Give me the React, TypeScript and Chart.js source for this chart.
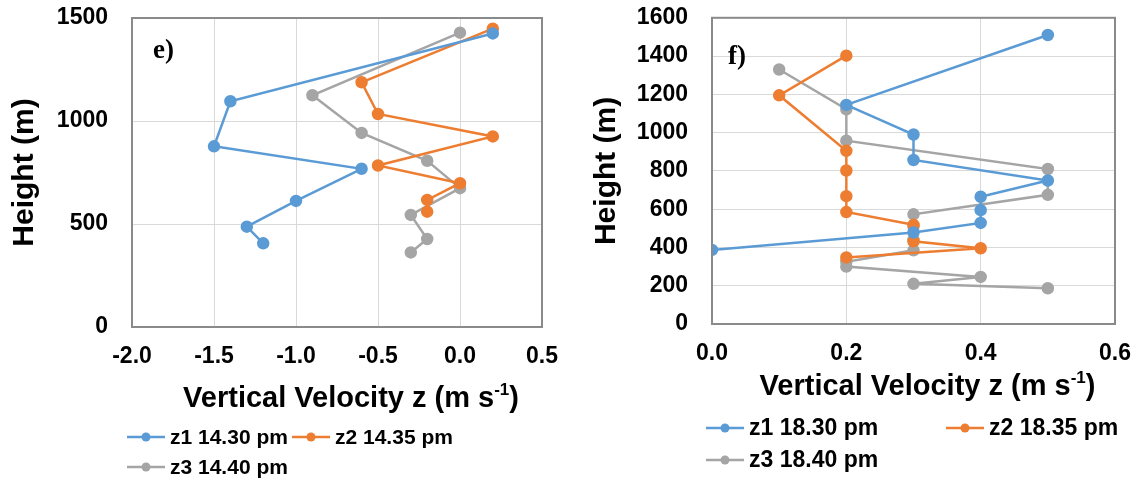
import React, { useEffect, useRef } from 'react';
import { Chart, registerables } from 'chart.js';

Chart.register(...registerables);

// ---------- Panel e) data ----------
const eZ1Vel = [0.2, -1.4, -1.5, -0.6, -1.0, -1.3, -1.2];
const eZ1Hgt = [1425, 1096, 877, 768, 612, 487, 406];
const eZ2Vel = [0.2, -0.6, -0.5, 0.2, -0.5, 0.0, -0.2, -0.2];
const eZ2Hgt = [1448, 1188, 1034, 925, 784, 698, 617, 560];
const eZ3Vel = [0.0, -0.9, -0.6, -0.2, 0.0, -0.3, -0.2, -0.3];
const eZ3Hgt = [1429, 1125, 942, 807, 674, 544, 427, 362];
const eLabels = ['z1 14.30 pm', 'z2 14.35 pm', 'z3 14.40 pm'];
const eXTicks = [-2.0, -1.5, -1.0, -0.5, 0.0, 0.5];
const eYTicks = [0, 500, 1000, 1500];

// ---------- Panel f) data ----------
const fZ1Vel = [0.5, 0.2, 0.3, 0.3, 0.5, 0.4, 0.4, 0.4, 0.3, 0.0];
const fZ1Hgt = [1510, 1145, 990, 857, 750, 665, 595, 528, 478, 387];
const fZ2Vel = [0.2, 0.1, 0.2, 0.2, 0.2, 0.2, 0.3, 0.3, 0.4, 0.2];
const fZ2Hgt = [1402, 1195, 905, 802, 668, 585, 518, 432, 396, 348];
const fZ3Vel = [0.1, 0.2, 0.2, 0.5, 0.5, 0.3, 0.3, 0.3, 0.3, 0.2, 0.2, 0.4, 0.3, 0.5];
const fZ3Hgt = [1330, 1122, 958, 810, 675, 573, 510, 440, 385, 325, 300, 246, 210, 187];
const fLabels = ['z1 18.30 pm', 'z2 18.35 pm', 'z3 18.40 pm'];
const fXTicks = [0.0, 0.2, 0.4, 0.6];
const fYTicks = [0, 200, 400, 600, 800, 1000, 1200, 1400, 1600];

const COLORS = ['#5B9BD5', '#ED7D31', '#A5A5A5'];
const FONT = "'Liberation Sans', Arial, sans-serif";
const SERIF = "'Liberation Serif', 'Times New Roman', serif";

type Panel = {
  tag: string;
  tagDx: number;
  tagDy: number;
  vels: number[][];
  hgts: number[][];
  labels: string[];
  xTicks: number[];
  yTicks: number[];
  area: { left: number; top: number; right: number; bottom: number };
  width: number;
  height: number;
  yTitlePad: number;
  xTitleY: number;
  legendFont: number;
  legendRows: { y: number; items: { idx: number; x: number }[] }[];
};

function makeChart(canvas: HTMLCanvasElement, p: Panel) {
  const datasets = p.vels.map((vs, i) => ({
    label: p.labels[i],
    data: vs.map((v, j) => ({ x: v, y: p.hgts[i][j] })),
    borderColor: COLORS[i],
    backgroundColor: COLORS[i],
    pointBackgroundColor: COLORS[i],
    pointBorderColor: COLORS[i],
    pointRadius: 5,
    pointHoverRadius: 5,
    borderWidth: 2.5,
    showLine: true,
    tension: 0,
  }));

  const xStep = p.xTicks[1] - p.xTicks[0];
  const yStep = p.yTicks[1] - p.yTicks[0];

  const decor = {
    id: 'decor',
    afterDatasetsDraw(chart: any) {
      const ctx = chart.ctx;
      const a = chart.chartArea;
      ctx.save();
      // plot frame
      ctx.strokeStyle = '#8a8a8a';
      ctx.lineWidth = 2;
      ctx.strokeRect(a.left, a.top, a.right - a.left, a.bottom - a.top);
      // panel tag
      ctx.fillStyle = '#000';
      ctx.font = `bold 27px ${SERIF}`;
      ctx.textAlign = 'left';
      ctx.textBaseline = 'middle';
      ctx.fillText(p.tag, a.left + p.tagDx, a.top + p.tagDy);
      // x title with superscript
      const main = 'Vertical Velocity z (m s';
      const sup = '-1';
      const end = ')';
      const mainFont = `bold 29px ${FONT}`;
      const supFont = `bold 17px ${FONT}`;
      ctx.font = mainFont;
      const w1 = ctx.measureText(main).width;
      const w3 = ctx.measureText(end).width;
      ctx.font = supFont;
      const w2 = ctx.measureText(sup).width;
      const total = w1 + w2 + w3;
      let x = (a.left + a.right) / 2 + 14 - total / 2;
      const y = p.xTitleY;
      ctx.textBaseline = 'alphabetic';
      ctx.font = mainFont;
      ctx.fillText(main, x, y + 10);
      x += w1;
      ctx.font = supFont;
      ctx.fillText(sup, x, y - 2);
      x += w2;
      ctx.font = mainFont;
      ctx.fillText(end, x, y + 10);
      // legend
      ctx.font = `bold ${p.legendFont}px ${FONT}`;
      ctx.textBaseline = 'middle';
      for (const row of p.legendRows) {
        for (const it of row.items) {
          const c = COLORS[it.idx];
          ctx.strokeStyle = c;
          ctx.lineWidth = 2.5;
          ctx.beginPath();
          ctx.moveTo(it.x, row.y);
          ctx.lineTo(it.x + 38, row.y);
          ctx.stroke();
          ctx.fillStyle = c;
          ctx.beginPath();
          ctx.arc(it.x + 19, row.y, 4.5, 0, Math.PI * 2);
          ctx.fill();
          ctx.fillStyle = '#000';
          ctx.fillText(p.labels[it.idx], it.x + 43, row.y + 1);
        }
      }
      ctx.restore();
    },
  };

  return new Chart(canvas, {
    type: 'scatter',
    data: { datasets },
    options: {
      responsive: false,
      animation: false,
      layout: {
        padding: {
          left: 0,
          top: p.area.top,
          right: p.width - p.area.right,
          bottom: 0,
        },
      },
      plugins: {
        legend: { display: false },
        tooltip: { enabled: false },
      },
      scales: {
        x: {
          type: 'linear',
          min: p.xTicks[0],
          max: p.xTicks[p.xTicks.length - 1],
          afterFit(scale: any) {
            scale.height = p.height - p.area.bottom;
          },
          ticks: {
            stepSize: xStep,
            padding: 4,
            color: '#000',
            font: { family: FONT, size: 23, weight: 'bold' },
            callback: (v: any) => Number(v).toFixed(1),
          },
          grid: {
            color: '#d9d9d9',
            lineWidth: 1,
            drawTicks: true,
            tickLength: 12,
            tickColor: 'rgba(0,0,0,0)',
          },
          border: { display: false },
        },
        y: {
          type: 'linear',
          min: p.yTicks[0],
          max: p.yTicks[p.yTicks.length - 1],
          afterFit(scale: any) {
            scale.width = p.area.left;
          },
          ticks: {
            stepSize: yStep,
            padding: 4,
            color: '#000',
            font: { family: FONT, size: 23, weight: 'bold' },
            callback: (v: any) => String(v),
          },
          grid: {
            color: '#d9d9d9',
            lineWidth: 1,
            drawTicks: true,
            tickLength: 20,
            tickColor: 'rgba(0,0,0,0)',
          },
          border: { display: false },
          title: {
            display: true,
            text: 'Height (m)',
            color: '#000',
            font: { family: FONT, size: 30, weight: 'bold' },
            padding: { top: p.yTitlePad, bottom: 0 },
          },
        },
      },
    },
    plugins: [decor],
  } as any);
}

const panelE: Panel = {
  tag: 'e)',
  tagDx: 21,
  tagDy: 33,
  vels: [eZ1Vel, eZ2Vel, eZ3Vel],
  hgts: [eZ1Hgt, eZ2Hgt, eZ3Hgt],
  labels: eLabels,
  xTicks: eXTicks,
  yTicks: eYTicks,
  area: { left: 132, top: 18, right: 542, bottom: 327 },
  width: 580,
  height: 486,
  yTitlePad: 7,
  xTitleY: 397,
  legendFont: 21,
  legendRows: [
    { y: 437, items: [{ idx: 0, x: 127 }, { idx: 1, x: 292 }] },
    { y: 467, items: [{ idx: 2, x: 127 }] },
  ],
};

const panelF: Panel = {
  tag: 'f)',
  tagDx: 16,
  tagDy: 39,
  vels: [fZ1Vel, fZ2Vel, fZ3Vel],
  hgts: [fZ1Hgt, fZ2Hgt, fZ3Hgt],
  labels: fLabels,
  xTicks: fXTicks,
  yTicks: fYTicks,
  area: { left: 132, top: 16, right: 535, bottom: 324 },
  width: 568,
  height: 486,
  yTitlePad: 9,
  xTitleY: 385,
  legendFont: 23,
  legendRows: [
    { y: 428, items: [{ idx: 0, x: 126 }, { idx: 1, x: 366 }] },
    { y: 460, items: [{ idx: 2, x: 126 }] },
  ],
};

function ChartPanel({ panel, left }: { panel: Panel; left: number }) {
  const ref = useRef<HTMLCanvasElement | null>(null);
  useEffect(() => {
    if (!ref.current) return;
    const chart = makeChart(ref.current, panel);
    return () => chart.destroy();
  }, [panel]);
  return (
    <canvas
      ref={ref}
      width={panel.width}
      height={panel.height}
      style={{ position: 'absolute', left, top: 0, width: panel.width, height: panel.height }}
    />
  );
}

export default function App() {
  return (
    <div style={{ position: 'absolute', left: 0, top: 0, width: 1148, height: 486, background: '#fff', overflow: 'hidden' }}>
      <ChartPanel panel={panelE} left={0} />
      <ChartPanel panel={panelF} left={580} />
    </div>
  );
}
